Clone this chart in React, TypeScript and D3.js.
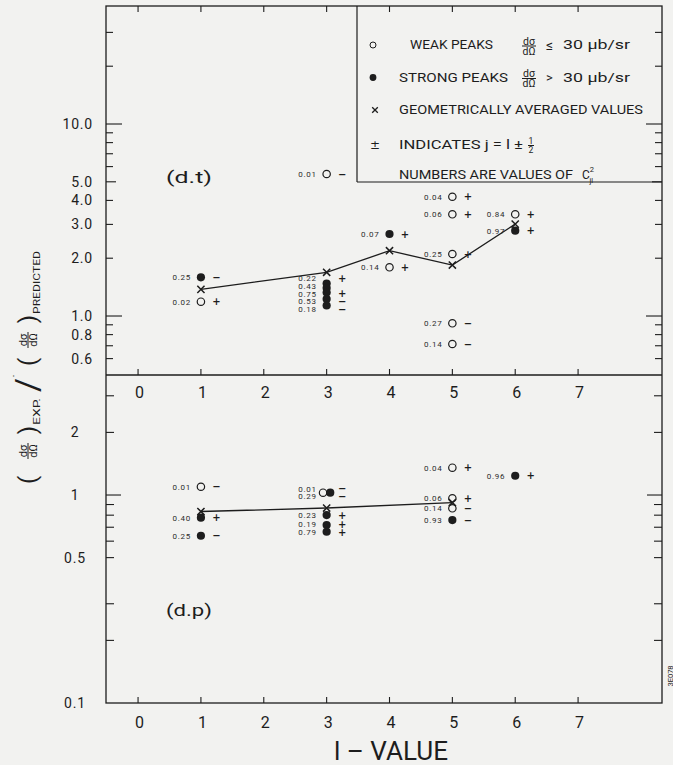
import React from "react";
import * as d3 from "d3";

const W = 673;
const H = 765;
const FONT = "Roboto, 'DejaVu Sans', sans-serif";
const SIGN_FONT = "'DejaVu Sans', sans-serif";
const INK = "#1d1d1d";
const SOFT = "#2c2c2c";
const PAPER = "#f2f2f0";

// orbital angular momentum values on the horizontal axis
const L_TICKS = [0, 1, 2, 3, 4, 5, 6, 7];

// (d,t) reaction: experimental / predicted cross-section ratios
const dtL = [1, 1, 3, 3, 3, 3, 3, 3, 4, 4, 5, 5, 5, 5, 5, 6, 6];
const dtRatio = [1.591, 1.187, 5.49, 1.476, 1.399, 1.326, 1.226, 1.134, 2.674, 1.793, 4.18, 3.386, 2.103, 0.916, 0.715, 3.386, 2.782];
const dtStrong = [true, false, false, true, true, true, true, true, true, false, false, false, false, false, false, false, true];
const dtC2 = ["0.25", "0.02", "0.01", "0.22", "0.43", "0.75", "0.53", "0.18", "0.07", "0.14", "0.04", "0.06", "0.25", "0.27", "0.14", "0.84", "0.97"];
const dtSign = ["−", "+", "−", "+", "", "+", "−", "−", "+", "+", "+", "+", "+", "−", "−", "+", "+"];
const dtAvgL = [1, 3, 4, 5, 6];
const dtAvg = [1.377, 1.689, 2.188, 1.843, 3.01];

// (d,p) reaction
const dpL = [1, 1, 1, 3, 3, 3, 3, 3, 5, 5, 5, 5, 6];
const dpRatio = [1.096, 0.778, 0.637, 1.026, 1.026, 0.801, 0.717, 0.666, 1.353, 0.964, 0.863, 0.758, 1.238];
const dpStrong = [false, true, true, false, true, true, true, true, false, false, false, true, true];
const dpC2 = ["0.01", "0.40", "0.25", "0.01", "0.29", "0.23", "0.19", "0.79", "0.04", "0.06", "0.14", "0.93", "0.96"];
const dpSign = ["−", "+", "−", "−", "−", "+", "+", "+", "+", "+", "−", "−", "+"];
const dpAvgL = [1, 3, 5];
const dpAvg = [0.833, 0.866, 0.92];

// vertical axis ticks
const dtMajor = [10, 5, 4, 3, 2, 1, 0.8, 0.6];
const dtMajorText = ["10.0", "5.0", "4.0", "3.0", "2.0", "1.0", "0.8", "0.6"];
const dtMinor = [30, 20, 9, 8, 7, 6, 0.9, 0.7];
const dpMajor = [2, 1, 0.5, 0.1];
const dpMajorText = ["2", "1", "0.5", "0.1"];
const dpMinor = [3, 0.9, 0.8, 0.7, 0.6, 0.3, 0.2];

const LEFT = 106;
const RIGHT = 662;
const TOP = 6;
const MID = 375;
const BOTTOM = 703;
const LABEL_GAP = 7.6;

type Pt = { l: number; cx: number; cy: number; dx: number; ty: number; strong: boolean; c2: string; sign: string };

function buildPoints(
  ls: number[],
  ratios: number[],
  strong: boolean[],
  c2: string[],
  sign: string[],
  x: (v: number) => number,
  y: (v: number) => number
): Pt[] {
  const pts: Pt[] = ls.map((l, i) => ({
    l,
    cx: x(l),
    cy: y(ratios[i]),
    dx: 0,
    ty: y(ratios[i]),
    strong: strong[i],
    c2: c2[i],
    sign: sign[i],
  }));
  // coincident markers at the same l are set side by side
  for (let i = 0; i < pts.length; i++) {
    for (let j = i + 1; j < pts.length; j++) {
      if (ls[i] === ls[j] && Math.abs(pts[i].cy - pts[j].cy) < 1.5) {
        pts[i].dx = -3.6;
        pts[j].dx = 3.6;
        pts[i].ty -= 0.5;
        pts[j].ty += 0.5;
      }
    }
  }
  // stack the value labels of each l column so they stay legible
  const groups = d3.group(pts, (p) => p.l);
  for (const g of groups.values()) {
    const sorted = [...g].sort((a, b) => a.ty - b.ty);
    let k = 0;
    while (k < sorted.length) {
      let e = k;
      while (e + 1 < sorted.length && sorted[e + 1].ty - sorted[e].ty < LABEL_GAP) e++;
      if (e > k) {
        const run = sorted.slice(k, e + 1);
        const mean = d3.mean(run, (p) => p.ty) as number;
        const start = mean - ((run.length - 1) * LABEL_GAP) / 2;
        run.forEach((p, i) => (p.ty = start + i * LABEL_GAP));
      }
      k = e + 1;
    }
  }
  return pts;
}

function Cross({ cx, cy, s = 3.6, w = 1.5 }: { cx: number; cy: number; s?: number; w?: number }) {
  return (
    <path
      d={`M${cx - s},${cy - s}L${cx + s},${cy + s}M${cx - s},${cy + s}L${cx + s},${cy - s}`}
      stroke={INK}
      strokeWidth={w}
      fill="none"
    />
  );
}

function Points({ pts }: { pts: Pt[] }) {
  const columns = Array.from(d3.group(pts, (p) => p.l).values());
  return (
    <g>
      {pts.map((p, i) =>
        p.strong ? (
          <circle key={"m" + i} cx={p.cx + p.dx} cy={p.cy} r={4.1} fill={INK} />
        ) : (
          <circle key={"m" + i} cx={p.cx + p.dx} cy={p.cy} r={3.7} fill="none" stroke={INK} strokeWidth={1.2} />
        )
      )}
      {/* one text block per l column: C² values on the left, j = l ± 1/2 signs on the right */}
      {columns.map((col, ci) => (
        <g key={"c" + ci}>
          <text textAnchor="end" fontSize={8} letterSpacing={0.7} fill={SOFT}>
            {col.map((p, i) => (
              <tspan key={i} x={p.cx - 10} y={p.ty + 2.9}>
                {p.c2}
              </tspan>
            ))}
          </text>
          <text textAnchor="middle" fontSize={10} fontWeight="bold" fontFamily={SIGN_FONT} fill={INK}>
            {col
              .filter((p) => p.sign)
              .map((p, i) => (
                <tspan key={i} x={p.cx + 15.5} y={p.ty + 3.6}>
                  {p.sign}
                </tspan>
              ))}
          </text>
        </g>
      ))}
    </g>
  );
}

function Frac({ x, y, top, bottom, size = 9, w = 12 }: { x: number; y: number; top: string; bottom: string; size?: number; w?: number }) {
  return (
    <g>
      <text x={x} y={y - 1.5} textAnchor="middle" fontSize={size} fill={INK}>
        {top}
      </text>
      <line x1={x - w / 2} x2={x + w / 2} y1={y} y2={y} stroke={INK} strokeWidth={1} />
      <text x={x} y={y + size * 0.85} textAnchor="middle" fontSize={size} fill={INK}>
        {bottom}
      </text>
    </g>
  );
}

export default function App() {
  const x = d3.scaleLinear().domain([-0.51, 8.335]).range([LEFT, RIGHT]);
  const yT = d3.scaleLog().domain([0.4929, 41.17]).range([MID, TOP]);
  const yB = d3.scaleLog().domain([0.1, 3.776]).range([BOTTOM, MID]);

  const dtPts = buildPoints(dtL, dtRatio, dtStrong, dtC2, dtSign, x, yT);
  const dpPts = buildPoints(dpL, dpRatio, dpStrong, dpC2, dpSign, x, yB);

  const lineT = d3
    .line<number>()
    .x((_, i) => x(dtAvgL[i]))
    .y((v) => yT(v));
  const lineB = d3
    .line<number>()
    .x((_, i) => x(dpAvgL[i]))
    .y((v) => yB(v));

  const tickLenT = (v: number) => (v === 10 || v === 1 ? 16 : v === 5 ? 10 : 7);
  const tickLenB = (v: number) => (v === 1 ? 15 : 8);

  const yTicks = (
    vals: number[],
    y: (v: number) => number,
    len: (v: number) => number,
    key: string
  ) =>
    vals.map((v, i) => (
      <g key={key + i}>
        <line x1={LEFT} x2={LEFT + len(v)} y1={y(v)} y2={y(v)} stroke={INK} strokeWidth={1.1} />
        <line x1={RIGHT} x2={RIGHT - len(v)} y1={y(v)} y2={y(v)} stroke={INK} strokeWidth={1.1} />
      </g>
    ));

  return (
    <svg
      width={W}
      height={H}
      viewBox={`0 0 ${W} ${H}`}
      style={{ position: "absolute", left: 0, top: 0, fontFamily: FONT }}
    >
      <rect x={0} y={0} width={W} height={H} fill={PAPER} />

      {/* frame and panel divider */}
      <rect x={LEFT} y={TOP} width={RIGHT - LEFT} height={BOTTOM - TOP} fill="none" stroke={INK} strokeWidth={1.3} />
      <line x1={LEFT} x2={RIGHT} y1={MID} y2={MID} stroke={INK} strokeWidth={1.3} />

      {/* horizontal axis ticks and labels */}
      {L_TICKS.map((l) => (
        <g key={"xl" + l}>
          <line x1={x(l)} x2={x(l)} y1={TOP} y2={TOP + 6} stroke={INK} strokeWidth={1.1} />
          <line x1={x(l)} x2={x(l)} y1={MID} y2={MID - 6} stroke={INK} strokeWidth={1.1} />
          <line x1={x(l)} x2={x(l)} y1={BOTTOM} y2={BOTTOM - 6} stroke={INK} strokeWidth={1.1} />
          <text x={x(l) + 1.5} y={392} textAnchor="middle" dominantBaseline="central" fontSize={16} fill={INK}>
            {l}
          </text>
          <text x={x(l) + 1.5} y={722} textAnchor="middle" dominantBaseline="central" fontSize={16} fill={INK}>
            {l}
          </text>
        </g>
      ))}
      <text x={391} y={751} textAnchor="middle" dominantBaseline="central" fontSize={25} textLength={114} lengthAdjust="spacingAndGlyphs" fill={INK}>
        l – VALUE
      </text>

      {/* vertical axis ticks */}
      {yTicks(dtMajor, yT, tickLenT, "tM")}
      {yTicks(dtMinor, yT, tickLenT, "tm")}
      {yTicks(dpMajor.filter((v) => v > 0.1), yB, tickLenB, "bM")}
      {yTicks(dpMinor, yB, tickLenB, "bm")}
      {dtMajor.map((v, i) => (
        <text key={"tl" + i} x={93} y={yT(v)} textAnchor="end" dominantBaseline="central" fontSize={14} letterSpacing={0.8} fill={INK}>
          {dtMajorText[i]}
        </text>
      ))}
      {dpMajor.map((v, i) => (
        <text key={"bl" + i} x={75} y={yB(v)} textAnchor="middle" dominantBaseline="central" fontSize={14} letterSpacing={0.8} fill={INK}>
          {dpMajorText[i]}
        </text>
      ))}

      {/* vertical axis title */}
      <g transform="translate(28,370) rotate(-90)" fill={INK}>
        <text x={-110} y={8} textAnchor="middle" fontSize={24}>(</text>
        <Frac x={-81} y={0} top="dσ" bottom="dΩ" size={11} w={16} />
        <text x={-60} y={8} textAnchor="middle" fontSize={24}>)</text>
        <text x={-55} y={12} fontSize={9.5} textLength={27} lengthAdjust="spacingAndGlyphs">EXP.</text>
        <text x={-15} y={11} textAnchor="middle" fontSize={34}>/</text>
        <text x={-6} y={-10} textAnchor="middle" fontSize={10}>·</text>
        <text x={8} y={8} textAnchor="middle" fontSize={24}>(</text>
        <Frac x={30} y={0} top="dσ" bottom="dΩ" size={11} w={16} />
        <text x={51} y={8} textAnchor="middle" fontSize={24}>)</text>
        <text x={56} y={12} fontSize={9.5} textLength={63} lengthAdjust="spacingAndGlyphs">PREDICTED</text>
      </g>

      {/* legend */}
      <g fill={INK}>
        <line x1={357} x2={357} y1={TOP} y2={182} stroke={INK} strokeWidth={1.2} />
        <line x1={357} x2={RIGHT} y1={182} y2={182} stroke={INK} strokeWidth={1.2} />

        <circle cx={373} cy={45} r={3} fill="none" stroke={INK} strokeWidth={1} />
        <text x={410} y={45} dominantBaseline="central" fontSize={12} textLength={83} lengthAdjust="spacingAndGlyphs">WEAK PEAKS</text>
        <Frac x={529} y={46} top="dσ" bottom="dΩ" size={10.5} w={14} />
        <text x={546} y={45} dominantBaseline="central" fontSize={14}>≤</text>
        <text x={563} y={45} dominantBaseline="central" fontSize={12} textLength={67} lengthAdjust="spacingAndGlyphs">30 μb/sr</text>

        <circle cx={373} cy={77.5} r={3.4} />
        <text x={399} y={77.5} dominantBaseline="central" fontSize={12} textLength={109} lengthAdjust="spacingAndGlyphs">STRONG PEAKS</text>
        <Frac x={529} y={78.5} top="dσ" bottom="dΩ" size={10.5} w={14} />
        <text x={546} y={77.5} dominantBaseline="central" fontSize={13}>&gt;</text>
        <text x={563} y={77.5} dominantBaseline="central" fontSize={12} textLength={67} lengthAdjust="spacingAndGlyphs">30 μb/sr</text>

        <Cross cx={375} cy={110} s={2.8} w={1.3} />
        <text x={399} y={110} dominantBaseline="central" fontSize={12} textLength={244} lengthAdjust="spacingAndGlyphs">GEOMETRICALLY AVERAGED VALUES</text>

        <text x={375} y={145} textAnchor="middle" dominantBaseline="central" fontSize={12} fontFamily={SIGN_FONT}>±</text>
        <text x={399} y={145} dominantBaseline="central" fontSize={12} textLength={124} lengthAdjust="spacingAndGlyphs">INDICATES  j = l ±</text>
        <Frac x={531} y={145.5} top="1" bottom="2" size={8.5} w={6} />

        <text x={399} y={175} dominantBaseline="central" fontSize={12} textLength={174} lengthAdjust="spacingAndGlyphs">NUMBERS ARE VALUES  OF</text>
        <text x={582} y={175} dominantBaseline="central" fontSize={12}>
          C
          <tspan dy={-6} fontSize={7.5}>2</tspan>
          <tspan dx={-4.5} dy={11} fontSize={7.5}>jl</tspan>
        </text>
      </g>

      {/* panel names */}
      <text x={166} y={177} dominantBaseline="central" fontSize={17} textLength={46} lengthAdjust="spacingAndGlyphs" fill={INK}>(d.t)</text>
      <text x={166} y={610} dominantBaseline="central" fontSize={17} textLength={46} lengthAdjust="spacingAndGlyphs" fill={INK}>(d.p)</text>

      {/* averaged values */}
      <path d={lineT(dtAvg) ?? ""} fill="none" stroke={INK} strokeWidth={1.3} />
      <path d={lineB(dpAvg) ?? ""} fill="none" stroke={INK} strokeWidth={1.3} />
      {dtAvg.map((v, i) => (
        <Cross key={"ta" + i} cx={x(dtAvgL[i])} cy={yT(v)} />
      ))}
      {dpAvg.map((v, i) => (
        <Cross key={"ba" + i} cx={x(dpAvgL[i])} cy={yB(v)} />
      ))}

      <Points pts={dtPts} />
      <Points pts={dpPts} />

      <text transform="translate(670,676) rotate(-90)" textAnchor="middle" dominantBaseline="central" fontSize={7.5} fill={INK}>
        3E078
      </text>
    </svg>
  );
}
